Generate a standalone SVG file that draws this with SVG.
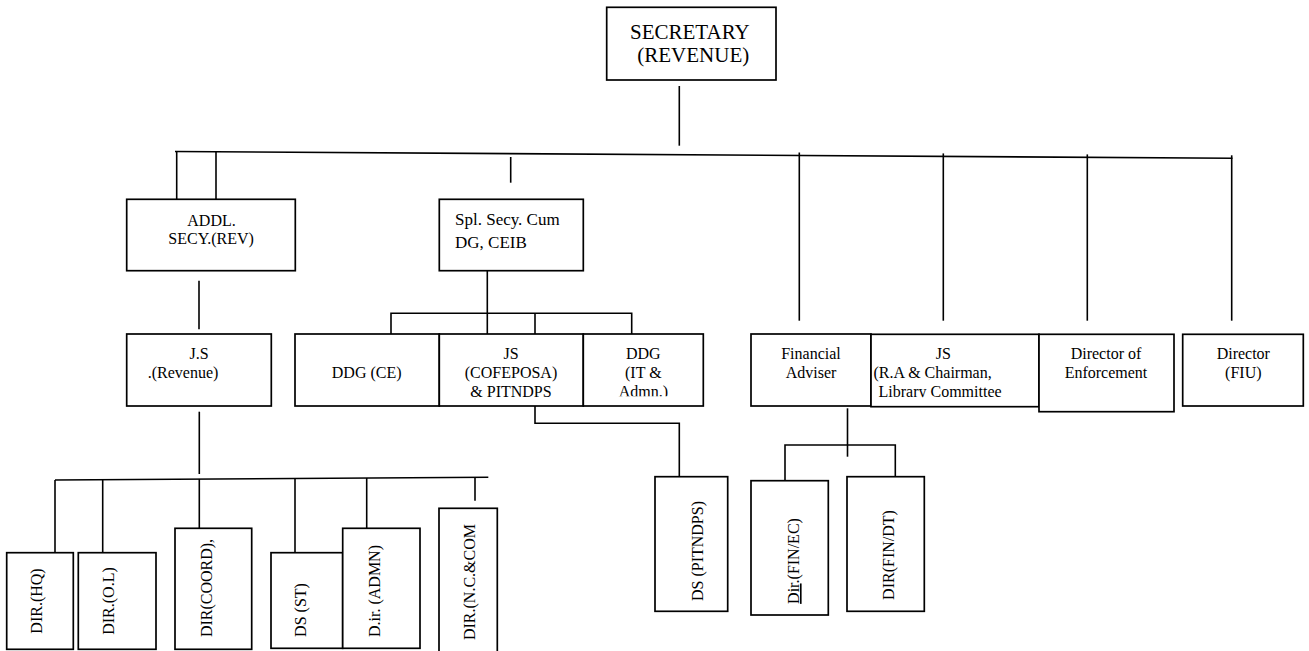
<svg xmlns="http://www.w3.org/2000/svg" width="1309" height="651" viewBox="0 0 1309 651" font-family="'Liberation Serif', 'Times New Roman', 'DejaVu Serif', serif">
<style>
.box{fill:#fff;stroke:#000;stroke-width:1.7}
.ln{stroke:#000;stroke-width:1.6;fill:none}
text{font-family:'Liberation Serif','Times New Roman','DejaVu Serif',serif;font-size:16px;fill:#000}
.big{font-size:21px}
.s17{font-size:17px}
.m{text-anchor:middle}
</style>
<defs>
<clipPath id="clipDDG"><rect x="583" y="334" width="121" height="62.3"/></clipPath>
<clipPath id="clipJSRA"><rect x="871" y="334" width="168" height="63.3"/></clipPath>
</defs>
<rect width="1309" height="651" fill="#fff"/>
<g id="connectors">
<line class="ln" x1="679.3" y1="86" x2="679.3" y2="145.7"/>
<line class="ln" x1="175" y1="151.5" x2="1232.5" y2="158.3"/>
<line class="ln" x1="176.7" y1="151.5" x2="176.7" y2="199.3"/>
<line class="ln" x1="216" y1="151.8" x2="216" y2="199.3"/>
<line class="ln" x1="510.7" y1="157" x2="510.7" y2="182.7"/>
<line class="ln" x1="799.3" y1="152.5" x2="799.3" y2="320.7"/>
<line class="ln" x1="943.3" y1="153.4" x2="943.3" y2="320.7"/>
<line class="ln" x1="1087.3" y1="154.4" x2="1087.3" y2="320.7"/>
<line class="ln" x1="1231.7" y1="155.3" x2="1231.7" y2="320.7"/>
<line class="ln" x1="199" y1="280.7" x2="199" y2="329.3"/>
<polyline class="ln" points="487.3,271 487.3,334"/>
<polyline class="ln" points="391,334 391,313.3 631.7,313.3 631.7,334"/>
<line class="ln" x1="535" y1="313.3" x2="535" y2="334"/>
<polyline class="ln" points="535,406 535,423.3 679.3,423.3 679.3,476.7"/>
<line class="ln" x1="847.5" y1="408.3" x2="847.5" y2="456.7"/>
<polyline class="ln" points="785,480.7 785,445 895.3,445 895.3,476.7"/>
<line class="ln" x1="199.3" y1="411.7" x2="199.3" y2="474"/>
<line class="ln" x1="55" y1="480" x2="488.3" y2="477.3"/>
<line class="ln" x1="55" y1="480" x2="55" y2="552.7"/>
<line class="ln" x1="102.7" y1="479.7" x2="102.7" y2="552.7"/>
<line class="ln" x1="199.3" y1="479.1" x2="199.3" y2="528.3"/>
<line class="ln" x1="295" y1="478.5" x2="295" y2="552.7"/>
<line class="ln" x1="366.7" y1="478" x2="366.7" y2="528.3"/>
<line class="ln" x1="475" y1="477.4" x2="475" y2="500.7"/>
</g>
<g id="secretary">
<rect class="box" x="606.7" y="7.3" width="169.3" height="72.7"/>
<text class="big" x="630" y="39">SECRETARY</text>
<text class="big" x="637.3" y="61.5">(REVENUE)</text>
</g>
<g id="addl-secy">
<rect class="box" x="126.7" y="199.3" width="168.6" height="71.4"/>
<text x="187.3" y="226">ADDL.</text>
<text x="168.3" y="244">SECY.(REV)</text>
</g>
<g id="spl-secy">
<rect class="box" x="439.3" y="199.3" width="144" height="71.4"/>
<text class="s17" x="455" y="225">Spl. Secy. Cum</text>
<text class="s17" x="455" y="248">DG, CEIB</text>
</g>
<g id="js-revenue">
<rect class="box" x="126.7" y="334" width="144.6" height="72"/>
<text class="m" x="199" y="359.3">J.S</text>
<text x="147.7" y="378.3">.(Revenue)</text>
</g>
<g id="ddg-ce">
<rect class="box" x="295" y="334" width="144.3" height="72"/>
<text class="m" x="366.7" y="378.3">DDG (CE)</text>
</g>
<g id="js-cofeposa">
<rect class="box" x="439.3" y="334" width="144" height="72"/>
<text class="m" x="511" y="359.3">JS</text>
<text class="m" x="511" y="378.3">(COFEPOSA)</text>
<text class="m" x="511" y="396.7">&amp; PITNDPS</text>
</g>
<g id="ddg-it">
<rect class="box" x="583.3" y="334" width="120" height="72"/>
<g clip-path="url(#clipDDG)">
<text class="m" x="643.3" y="359.3">DDG</text>
<text class="m" x="643.3" y="378.3">(IT &amp;</text>
<text class="m" x="643.3" y="397.3">Admn.)</text>
</g>
</g>
<g id="financial-adviser">
<rect class="box" x="751" y="334" width="120" height="72"/>
<text class="m" x="811" y="359.3">Financial</text>
<text class="m" x="811" y="378.3">Adviser</text>
</g>
<g id="js-ra">
<rect class="box" x="871" y="334.3" width="168" height="72.4"/>
<g clip-path="url(#clipJSRA)">
<text class="m" x="943.3" y="359.3">JS</text>
<text x="873.5" y="378.3">(R.A &amp; Chairman,</text>
<text x="878.5" y="396.5">Library Committee</text>
</g>
</g>
<g id="director-enforcement">
<rect class="box" x="1039" y="334.3" width="135" height="77.4"/>
<text class="m" x="1106" y="359.3">Director of</text>
<text class="m" x="1106" y="378.3">Enforcement</text>
</g>
<g id="director-fiu">
<rect class="box" x="1182.7" y="334.3" width="120.6" height="71.7"/>
<text class="m" x="1243.3" y="359.3">Director</text>
<text class="m" x="1243.3" y="378.3">(FIU)</text>
</g>
<g id="dir-hq">
<rect class="box" x="6.7" y="552.7" width="66.6" height="96.6"/>
<text class="m" x="42.2" y="601" transform="rotate(-90 42.2 601)">DIR.(HQ)</text>
</g>
<g id="dir-ol">
<rect class="box" x="78.3" y="552.7" width="77.7" height="96.6"/>
<text class="m" x="113.9" y="601" transform="rotate(-90 113.9 601)">DIR.(O.L)</text>
</g>
<g id="dir-coord">
<rect class="box" x="175" y="528.3" width="76.7" height="121"/>
<text class="m" x="212" y="588" transform="rotate(-90 212 588)">DIR(COORD),</text>
</g>
<g id="ds-st">
<rect class="box" x="271" y="552.7" width="71.7" height="95.6"/>
<text class="m" x="305.5" y="610" transform="rotate(-90 305.5 610)">DS (ST)</text>
</g>
<g id="dir-admn">
<rect class="box" x="342.7" y="528.3" width="77.3" height="120"/>
<text class="m" x="380" y="591" transform="rotate(-90 380 591)">D.ir. (ADMN)</text>
</g>
<g id="dir-nccom">
<rect class="box" x="439" y="508.3" width="58.3" height="150"/>
<text class="m" x="474.5" y="582" transform="rotate(-90 474.5 582)">DIR.(N.C.&amp;COM</text>
</g>
<g id="ds-pitndps">
<rect class="box" x="655" y="476.7" width="72.7" height="134.6"/>
<text class="m" x="703" y="551" transform="rotate(-90 703 551)">DS (PITNDPS)</text>
</g>
<g id="dir-fin-ec">
<rect class="box" x="751" y="480.7" width="77.3" height="134.3"/>
<text class="m" x="799" y="561" transform="rotate(-90 799 561)"><tspan text-decoration="underline">Dir</tspan>.(FIN/EC)</text>
</g>
<g id="dir-fin-dt">
<rect class="box" x="847" y="476.7" width="77.3" height="134.6"/>
<text class="m" x="894" y="555" transform="rotate(-90 894 555)">DIR(FIN/DT)</text>
</g>
</svg>
